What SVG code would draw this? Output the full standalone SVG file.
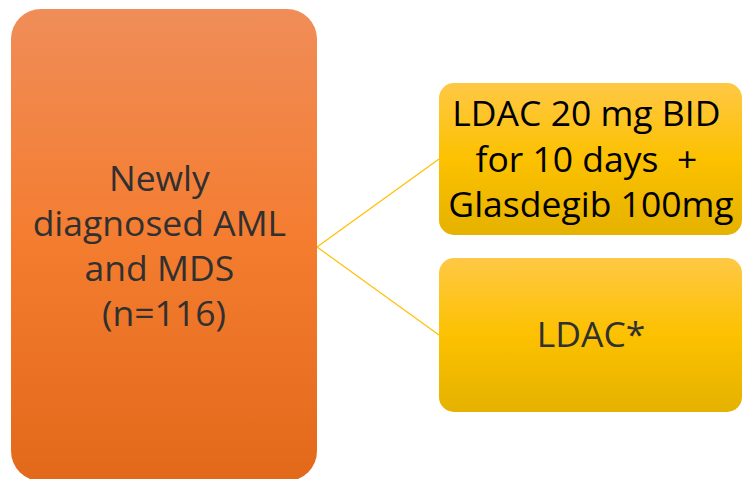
<svg xmlns="http://www.w3.org/2000/svg" width="743" height="479" viewBox="0 0 743 479">
  <defs>
    <linearGradient id="gOrange" x1="0" y1="0" x2="0" y2="1">
      <stop offset="0" stop-color="#F08D58"/>
      <stop offset="0.5" stop-color="#F47C2F"/>
      <stop offset="1" stop-color="#E2691A"/>
    </linearGradient>
    <linearGradient id="gGold" x1="0" y1="0" x2="0" y2="1">
      <stop offset="0" stop-color="#FFC845"/>
      <stop offset="0.5" stop-color="#FCC100"/>
      <stop offset="1" stop-color="#E5B200"/>
    </linearGradient>
    <style>
      .lbl { font-family: "Open Sans", "Liberation Sans", sans-serif; font-size: 35.5px; text-anchor: middle; }
      .dark { fill: #303030; }
      .black { fill: #000000; }
      .conn { stroke: #FFC000; stroke-width: 1.2; fill: none; }
    </style>
  </defs>
  <rect width="743" height="479" fill="#FFFFFF"/>

  <g id="connectors">
    <line class="conn" x1="317" y1="247" x2="439" y2="159"/>
    <line class="conn" x1="317" y1="247" x2="439" y2="335"/>
  </g>

  <g id="population">
    <rect x="11" y="9" width="306" height="472" rx="30" ry="30" fill="url(#gOrange)"/>
    <text class="lbl dark">
      <tspan x="164" y="191">Newly</tspan>
      <tspan x="164" y="236">diagnosed AML</tspan>
      <tspan x="164" y="281">and MDS</tspan>
      <tspan x="164" y="326">(n=116)</tspan>
    </text>
  </g>

  <g id="arm-glasdegib">
    <rect x="439" y="83" width="303" height="152" rx="15" ry="15" fill="url(#gGold)"/>
    <text class="lbl black">
      <tspan x="591" y="126">LDAC 20 mg BID</tspan>
      <tspan x="591" y="172">for 10 days &#160;+</tspan>
      <tspan x="591" y="217">Glasdegib 100mg</tspan>
    </text>
  </g>

  <g id="arm-ldac">
    <rect x="439" y="258" width="303" height="154" rx="15" ry="15" fill="url(#gGold)"/>
    <text class="lbl dark" x="591" y="347">LDAC*</text>
  </g>
</svg>
